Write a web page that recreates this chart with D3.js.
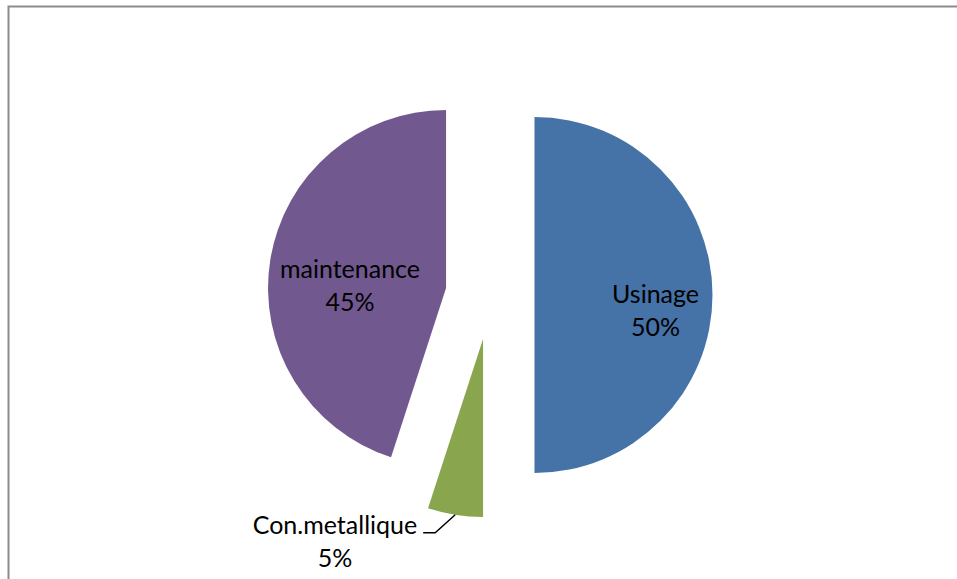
<!DOCTYPE html>
<html>
<head>
<meta charset="utf-8">
<script src="https://cdn.jsdelivr.net/npm/d3@7"></script>
<style>
  html, body { margin: 0; padding: 0; background: #fff; overflow: hidden; }
  svg { display: block; }
</style>
</head>
<body>
<svg id="chart" width="957" height="579"></svg>
<script>
// slices, clockwise from 12 o'clock
const categories = ['Usinage', 'Con.metallique', 'maintenance'];
const values = [50, 5, 45];
const percentLabels = ['50%', '5%', '45%'];
const colors = ['#4572A7', '#89A54E', '#71588F'];

(function () {
  const width = 957, height = 579;
  const cx = 490, cy = 295, radius = 178, explode = 44.5;
  const fontSize = 25, lineGap = 33;

  const svg = d3.select('#chart');

  // chart frame (runs off the right and bottom of the picture)
  svg.append('rect')
    .attr('x', 8.5).attr('y', 6.5)
    .attr('width', width + 20).attr('height', height + 20)
    .attr('fill', 'none').attr('stroke', '#8c8c8c').attr('stroke-width', 2);

  const pie = d3.pie().sort(null).value(d => d.value);
  const arcs = pie(categories.map((c, i) => ({ name: c, value: values[i], pct: percentLabels[i], color: colors[i] })));
  const arc = d3.arc().innerRadius(0).outerRadius(radius);

  const mid = d => (d.startAngle + d.endAngle) / 2;
  const polar = (a, r) => [Math.sin(a) * r, -Math.cos(a) * r];

  const g = svg.append('g').attr('transform', `translate(${cx},${cy})`);

  const slice = g.selectAll('g.slice').data(arcs).join('g')
    .attr('class', 'slice')
    .attr('transform', d => { const [dx, dy] = polar(mid(d), explode); return `translate(${dx},${dy})`; });

  slice.append('path').attr('d', arc).attr('fill', d => d.data.color);

  // label placement: angle offset (deg) from bisector, radius fraction, extra y shift, outside flag
  const labelLayout = [
    { da: 0, k: 0.68, dy: 16, outside: false },
    { da: 0, k: 1, dy: 0, outside: true },
    { da: -8, k: 0.54, dy: 0, outside: false }
  ];

  const textStyle = t => t
    .style('font-family', 'Lato, "Open Sans", sans-serif')
    .style('font-size', fontSize + 'px')
    .attr('fill', '#000');

  slice.each(function (d, i) {
    const s = d3.select(this);
    const L = labelLayout[i];
    if (L.outside) {
      const [ex, ey] = polar(mid(d), radius);
      const ky = ey + 18, kx = ex - 20;
      s.append('path')
        .attr('d', `M${ex},${ey}L${kx},${ky}L${kx - 12},${ky}`)
        .attr('fill', 'none').attr('stroke', '#000').attr('stroke-width', 1.5);
      const lbl = s.append('text').attr('text-anchor', 'middle').call(textStyle);
      // text ends just left of the leader line
      lbl.append('tspan').attr('x', 0).attr('y', 0).text(d.data.name);
      const w = lbl.node().getComputedTextLength();
      const tx = kx - 12 - 6 - w / 2;
      lbl.attr('transform', `translate(${tx},${ky + 1})`);
      lbl.append('tspan').attr('x', 0).attr('y', lineGap).text(d.data.pct);
    } else {
      const [px, py] = polar(mid(d) + L.da * Math.PI / 180, L.k * radius);
      const lbl = s.append('text')
        .attr('text-anchor', 'middle')
        .attr('transform', `translate(${px},${py + L.dy})`)
        .call(textStyle);
      lbl.append('tspan').attr('x', 0).attr('y', -lineGap / 2 + 8).text(d.data.name);
      lbl.append('tspan').attr('x', 0).attr('y', lineGap / 2 + 8).text(d.data.pct);
    }
  });
})();
</script>
</body>
</html>
